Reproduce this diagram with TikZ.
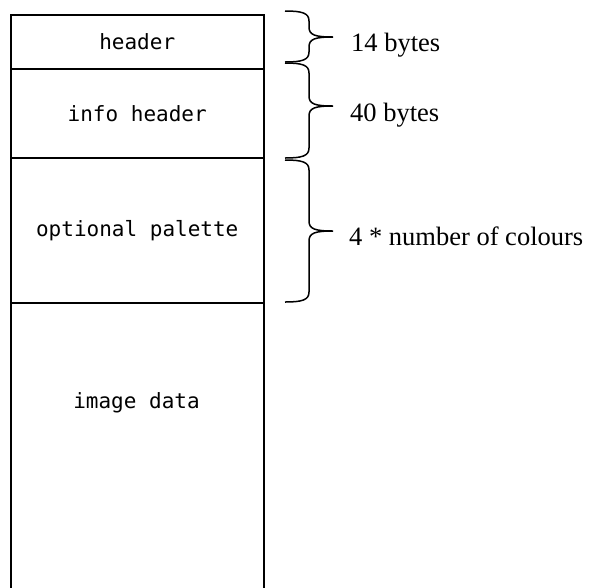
\documentclass[tikz,border=0pt]{standalone}
\usepackage{fontspec}
\setmainfont{Liberation Serif}
\newfontfamily\boxfont{DejaVu Sans Mono}
\begin{document}
\begin{tikzpicture}[x=1pt,y=-1pt,
  section/.style={draw=black,line width=1.5pt,rectangle,minimum width=253pt,anchor=north west,inner sep=0pt,
    font=\boxfont\fontsize{21}{25}\selectfont},
  bracepath/.style={draw=black,line width=1.5pt},
  sizelabel/.style={anchor=base west,inner sep=0pt,font=\fontsize{26.5}{31}\selectfont}]
\useasboundingbox (0,0) rectangle (589,587);
\begin{scope}
\clip (0,0) rectangle (589,587);
\node[section,minimum height=54pt] (hdr) at (10,14) {header};
\node[section,minimum height=89pt] (info) at (10,68) {info header};
\node[section,minimum height=145pt] (pal) at (10,157) {optional palette};
\node[section,minimum height=300pt] (img) at (10,302) {};
\node[font=\boxfont\fontsize{21}{25}\selectfont,inner sep=0pt,anchor=base] (imgtxt) at (136.5,408) {image data};
\end{scope}
% braces
\newcommand\mybrace[3]{%
  \draw[bracepath] (285,#1) .. controls (302,#1) and (309,#1+2) .. (309,#1+10)
    -- (309,#2-10) .. controls (309,#2-2) and (315,#2) .. (333,#2)
    .. controls (315,#2) and (309,#2+2) .. (309,#2+10)
    -- (309,#3-10) .. controls (309,#3-2) and (302,#3) .. (285,#3);}
\mybrace{11}{37}{62}
\mybrace{63}{106}{158}
\mybrace{160}{231}{302}
\node[sizelabel] (l1) at (351,51) {14 bytes};
\node[sizelabel] (l2) at (350,121) {40 bytes};
\node[sizelabel] (l3) at (349,245) {4 * number of colours};
\end{tikzpicture}
\end{document}
